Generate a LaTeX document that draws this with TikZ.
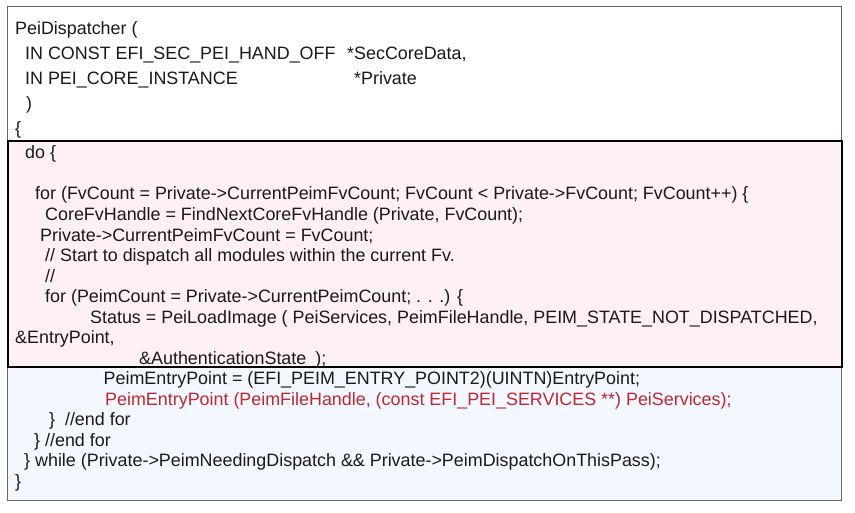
\documentclass[tikz,border=0pt]{standalone}
\usepackage{fontspec}
\setmainfont{Liberation Sans}
\definecolor{pinkfill}{HTML}{FFF0F3}
\definecolor{bluefill}{HTML}{F3F7FF}
\definecolor{grayline}{HTML}{666666}
\definecolor{redtext}{HTML}{C0282D}
\definecolor{txt}{HTML}{1A1A1A}
\begin{document}
\begin{tikzpicture}[x=1pt,y=-1pt,
  code/.style={anchor=base west, inner sep=0pt, font=\fontsize{17.9}{20}\selectfont, text=txt},
  hot/.style={code, text=redtext}]
\useasboundingbox (0,0) rectangle (855,512);
\fill[white] (0,0) rectangle (855,512);
\fill[bluefill] (7,366) rectangle (841,500);
\draw[grayline, line width=1pt] (7,6) rectangle (841,500);
\draw[black, line width=2pt, fill=pinkfill] (8,141) rectangle (841.5,366.5);
% header
\node[code] (l1) at (15,34) {PeiDispatcher (};
\node[code] (l2) at (25,59.5) {IN CONST EFI\_SEC\_PEI\_HAND\_OFF};
\node[code] (l2b) at (347,59.5) {*SecCoreData,};
\node[code] (l3) at (25,84.5) {IN PEI\_CORE\_INSTANCE};
\node[code] (l3b) at (354,84.5) {*Private};
\node[code] (l4) at (26,109.5) {)};
\node[code] (l5) at (15,134.5) {\{};
% pink block
\node[code] (l6) at (25,158) {do \{};
\node[code] (l7) at (35,199.5) {for (FvCount = Private->CurrentPeimFvCount; FvCount < Private->FvCount; FvCount++) \{};
\node[code] (l8) at (45,220.5) {CoreFvHandle = FindNextCoreFvHandle (Private, FvCount);};
\node[code] (l9) at (40,241) {Private->CurrentPeimFvCount = FvCount;};
\node[code] (l10) at (45,261.5) {// Start to dispatch all modules within the current Fv.};
\node[code] (l11) at (45,282) {//};
\node[code] (l12) at (45,302.5) {for (PeimCount = Private->CurrentPeimCount; . . .) \{};
\node[code] (l13) at (90,323) {Status = PeiLoadImage ( PeiServices, PeimFileHandle, PEIM\_STATE\_NOT\_DISPATCHED,};
\node[code] (l14) at (15,343.5) {\&EntryPoint,};
\node[code] (l15) at (139,364) {\&AuthenticationState\hspace{0.5em});};
% blue block
\node[code] (l16) at (103.5,384.5) {PeimEntryPoint = (EFI\_PEIM\_ENTRY\_POINT2)(UINTN)EntryPoint;};
\node[hot] (l17) at (105,405) {PeimEntryPoint (PeimFileHandle, (const EFI\_PEI\_SERVICES **) PeiServices);};
\node[code] (l18) at (49,425.5) {\}\hspace{0.55em}//end for};
\node[code] (l19) at (34,446) {\} //end for};
\node[code] (l20) at (24,466.5) {\} while (Private->PeimNeedingDispatch \&\& Private->PeimDispatchOnThisPass);};
\node[code] (l21) at (15,487) {\}};
\end{tikzpicture}
\end{document}
